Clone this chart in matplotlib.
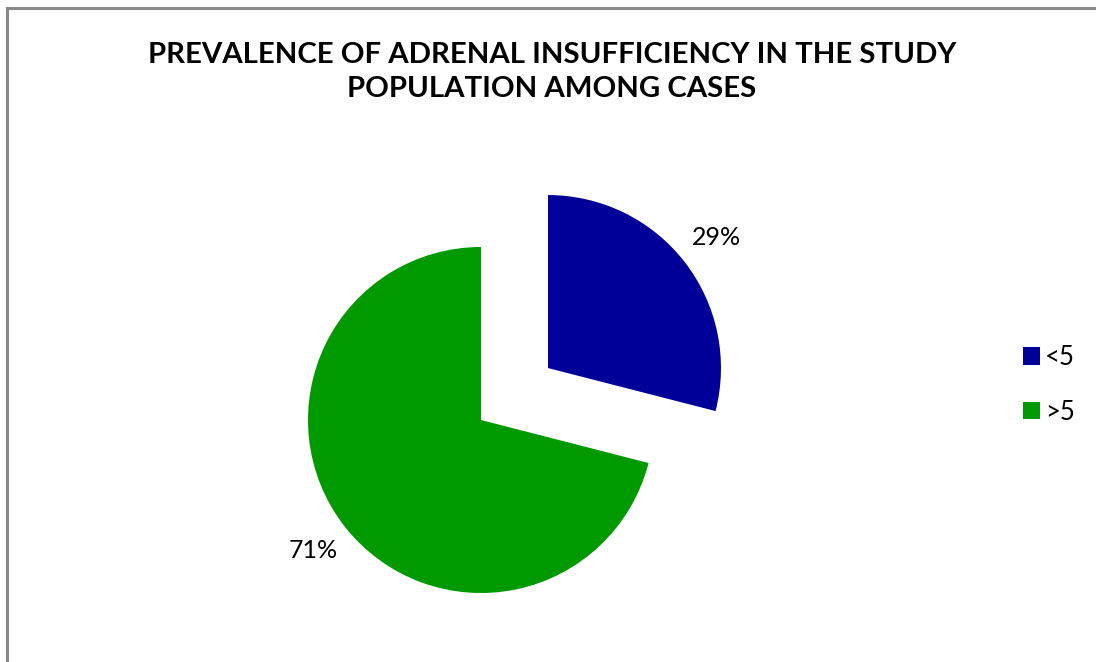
import matplotlib.pyplot as plt
from matplotlib.lines import Line2D

# share of cases by cortisol level
groups = ['<5', '>5']
shares = [29, 71]
colors = ['#000099', '#009900']

W, H = 1096, 662
fig = plt.figure(figsize=(W / 100, H / 100), dpi=100)
fig.patch.set_facecolor('white')

# pie axes: 1 data unit = 173 px, centred on the green wedge's apex
r_px = 173
cx, cy = 481, H - 420
lim = 1.5
side = 2 * lim * r_px
ax = fig.add_axes([(cx - side / 2) / W, (cy - side / 2) / H, side / W, side / H])

wedges, _, pcts = ax.pie(shares, colors=colors, startangle=90, counterclock=False,
                         explode=[0.49, 0], autopct='%1.0f%%', pctdistance=1.23,
                         textprops={'family': 'Lato', 'fontsize': 18, 'color': 'black'})
ax.set_xlim(-lim, lim)
ax.set_ylim(-lim, lim)
ax.set_aspect('auto')
ax.axis('off')

fig.text(552 / W, 1 - 72 / H,
         'PREVALENCE OF ADRENAL INSUFFICIENCY IN THE STUDY\nPOPULATION AMONG CASES',
         ha='center', va='center', family='Lato', fontweight='bold', fontsize=21.2,
         linespacing=1.4)

fig.legend(wedges, groups, loc='upper left', bbox_to_anchor=(1023 / W, 1 - 345 / H),
           frameon=False, borderpad=0, borderaxespad=0, handlelength=0.66,
           handleheight=0.66, handletextpad=0.2, labelspacing=1.15,
           prop={'family': 'Lato', 'size': 18.5})

# chart area border (left and top edges)
border = dict(color='#888888', linewidth=2.2, transform=fig.transFigure)
fig.add_artist(Line2D([7 / W, 7 / W], [0, 1 - 8 / H], **border))
fig.add_artist(Line2D([7 / W, 1], [1 - 8 / H, 1 - 8 / H], **border))

fig.savefig('out.png', dpi=100)
